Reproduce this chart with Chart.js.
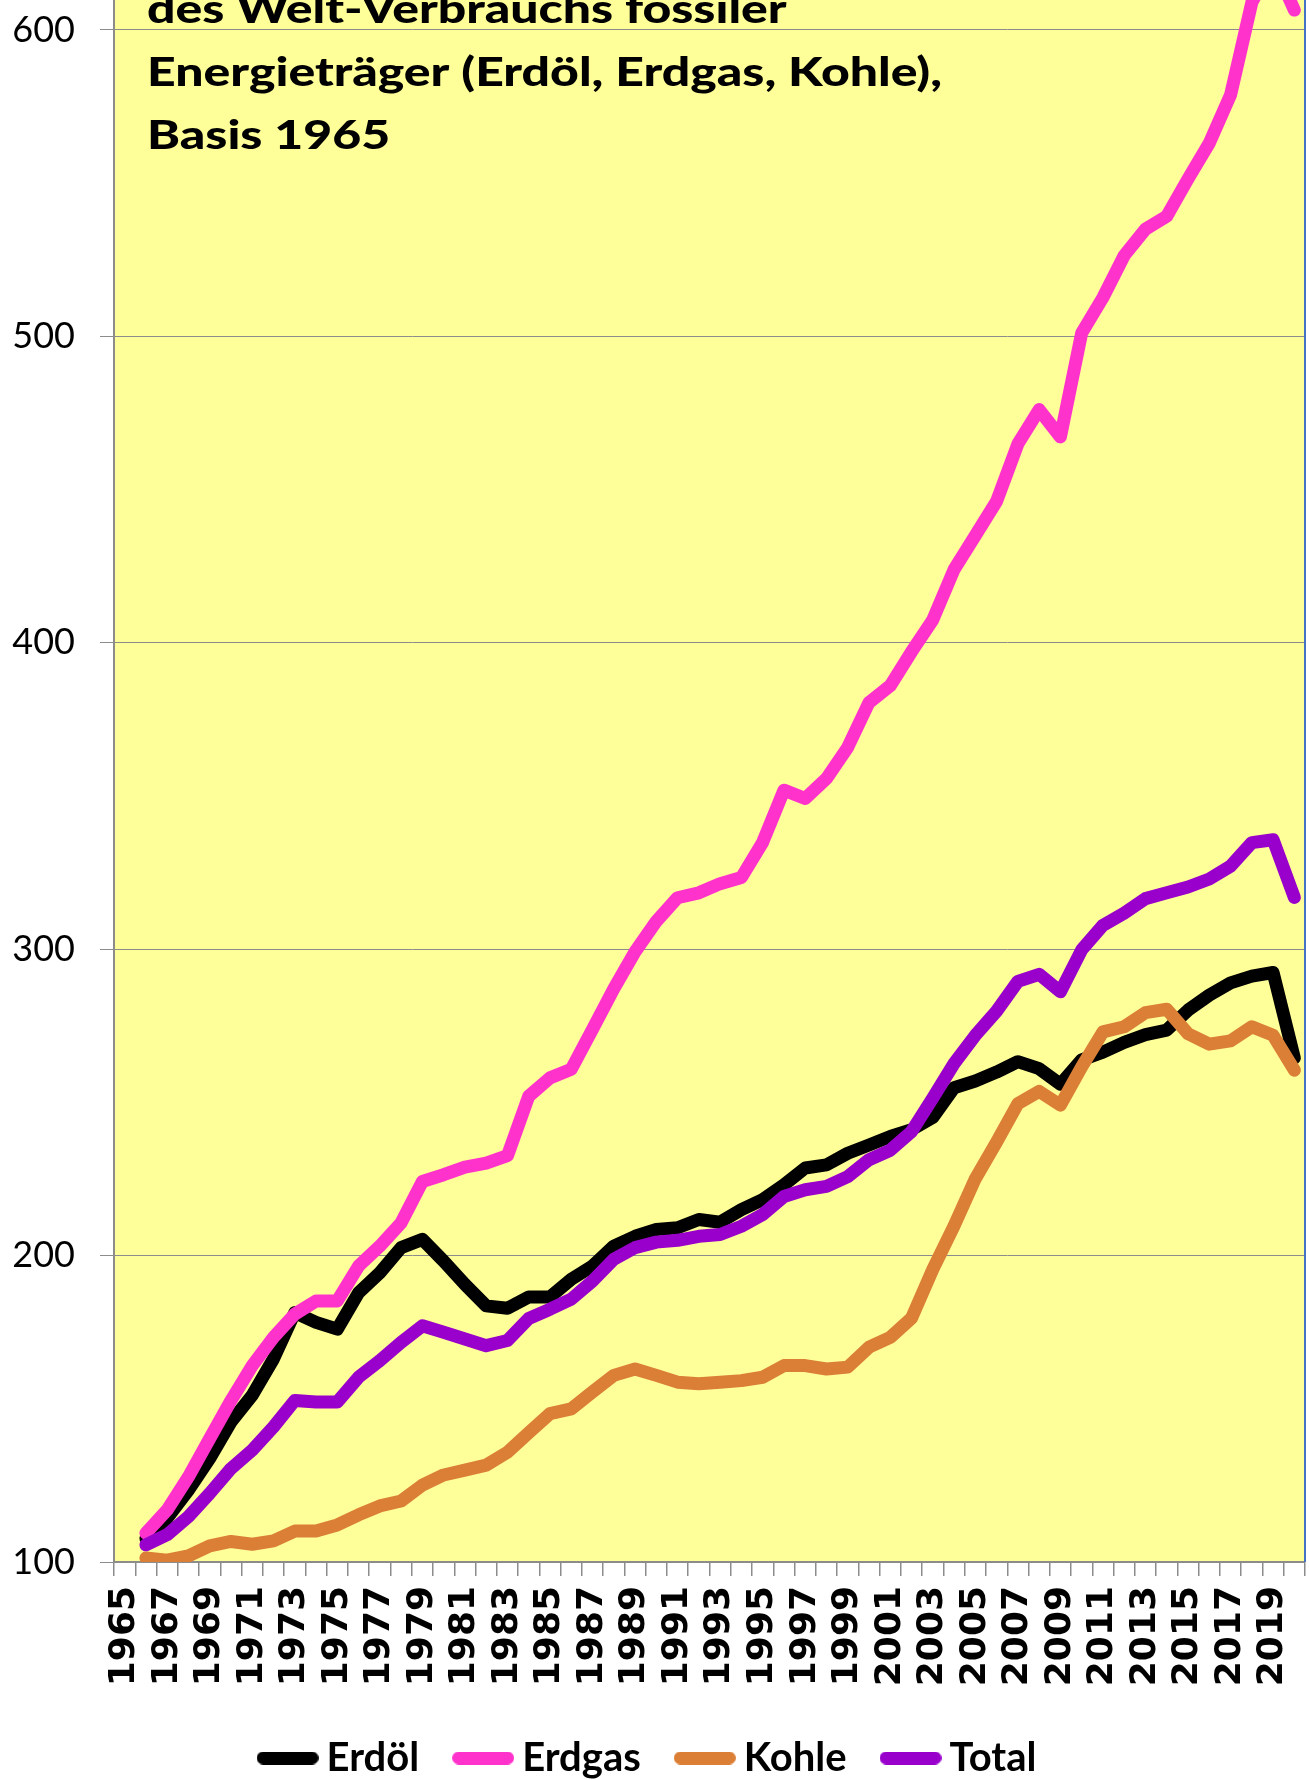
<!DOCTYPE html>
<html>
<head>
<meta charset="utf-8">
<script src="https://cdn.jsdelivr.net/npm/chart.js@4/dist/chart.umd.min.js"></script>
<style>
html,body{margin:0;padding:0;background:#fff;overflow:hidden;}
#frame{position:relative;width:1309px;height:1780px;overflow:hidden;background:#fff;}
#box{position:absolute;left:0;top:-323px;width:1309px;height:2111px;}
</style>
</head>
<body>
<div id="frame"><div id="box"><canvas id="c"></canvas></div></div>
<script>
const years = ['1965','1966','1967','1968','1969','1970','1971','1972','1973','1974',
  '1975','1976','1977','1978','1979','1980','1981','1982','1983','1984',
  '1985','1986','1987','1988','1989','1990','1991','1992','1993','1994',
  '1995','1996','1997','1998','1999','2000','2001','2002','2003','2004',
  '2005','2006','2007','2008','2009','2010','2011','2012','2013','2014',
  '2015','2016','2017','2018','2019','2020'];

const erdoel = [null,107.8,114.3,123.5,133.8,145.7,154.4,166.3,181.4,178.2,
  176.0,187.9,194.4,202.6,205.3,198.2,190.6,183.6,182.8,186.5,
  186.5,192.3,196.6,203.1,206.3,208.5,209.1,211.8,210.9,215.0,
  218.3,223.1,228.6,229.6,233.4,236.1,238.9,241.1,245.1,254.8,
  257.0,259.9,263.3,261.0,255.9,263.9,266.4,269.6,272.1,273.6,
  280.1,285.0,289.0,291.2,292.4,264.5];

const erdgas = [null,109.4,117.0,127.8,140.3,152.7,164.1,173.3,180.9,185.2,
  185.2,196.6,203.1,210.7,224.2,226.4,228.9,230.2,232.6,252.0,
  258.0,260.8,273.9,287.1,299.2,309.1,316.8,318.4,321.4,323.4,
  334.9,351.9,349.2,355.7,365.9,380.5,386.0,397.1,407.5,423.9,
  435.0,446.2,464.9,476.1,467.2,501.1,512.7,526.4,535.0,539.2,
  551.4,563.1,578.8,609.0,622.0,606.5];

const kohle = [null,101.3,100.6,102.0,105.3,106.7,105.8,106.9,110.1,110.1,
  112.1,115.4,118.3,119.9,125.1,128.4,130.0,131.6,135.8,142.2,
  148.4,150.0,155.5,160.9,163.0,160.9,158.7,158.2,158.7,159.2,
  160.3,164.1,164.1,163.0,163.6,170.1,173.3,179.6,195.5,209.7,
  225.1,237.1,249.6,253.6,249.1,261.6,273.0,274.7,279.3,280.4,
  272.4,269.0,270.1,274.7,271.9,260.5];

const total = [null,105.6,108.9,114.8,122.4,130.5,136.5,144.1,152.7,152.2,
  152.2,160.3,165.7,171.7,177.1,175.0,172.8,170.6,172.3,179.5,
  182.5,185.8,191.7,198.8,202.6,204.4,205.0,206.3,206.9,209.6,
  213.4,219.3,221.5,222.6,225.8,231.3,234.4,240.5,251.4,262.7,
  271.9,279.8,289.5,291.8,286.1,299.8,307.8,311.8,316.5,318.4,
  320.3,322.9,327.1,334.8,335.7,316.9];

const seriesNames = ['Erdöl','Erdgas','Kohle','Total'];
const seriesColors = ['#000000','#FF33CC','#DB7F37','#9900CC'];
const titleLines = ['des Welt-Verbrauchs fossiler','Energieträger (Erdöl, Erdgas, Kohle),','Basis 1965'];

function makeSwatch(color) {
  const c = document.createElement('canvas');
  c.width = 62; c.height = 13;
  const g = c.getContext('2d');
  g.strokeStyle = color;
  g.lineWidth = 13;
  g.lineCap = 'round';
  g.beginPath();
  g.moveTo(6.5, 6.5);
  g.lineTo(55.5, 6.5);
  g.stroke();
  return c;
}
const swatches = seriesColors.map(makeSwatch);

const plotDecor = {
  id: 'plotDecor',
  beforeDraw(chart) {
    const {ctx, chartArea: a} = chart;
    ctx.save();
    ctx.fillStyle = '#FFFF99';
    ctx.fillRect(a.left, a.top, a.right - a.left, a.bottom - a.top);
    ctx.restore();
  },
  beforeDatasetsDraw(chart) {
    const {ctx, chartArea: a} = chart;
    ctx.save();
    ctx.strokeStyle = '#4472C4';
    ctx.lineWidth = 2;
    ctx.beginPath();
    ctx.moveTo(a.right, a.top);
    ctx.lineTo(a.right, a.bottom);
    ctx.stroke();
    const y600 = chart.scales.y.getPixelForValue(600);
    ctx.font = '900 40px Lato';
    ctx.fillStyle = '#000';
    ctx.textBaseline = 'alphabetic';
    ctx.textAlign = 'left';
    const w = ctx.measureText(titleLines[1]).width;
    const sx = 795 / w;
    const offs = [-7, 56, 119];
    ctx.translate(a.left + 33, 0);
    ctx.scale(sx, 1);
    titleLines.forEach((t, i) => ctx.fillText(t, 0, y600 + offs[i]));
    ctx.restore();
  }
};

const dataArrays = [erdoel, erdgas, kohle, total];
const datasets = dataArrays.map((arr, i) => ({
  label: seriesNames[i],
  data: arr,
  borderColor: seriesColors[i],
  backgroundColor: seriesColors[i],
  borderWidth: 13,
  pointRadius: 0,
  pointHoverRadius: 0,
  tension: 0,
  borderCapStyle: 'round',
  borderJoinStyle: 'round',
  order: 4 - i
}));

new Chart(document.getElementById('c'), {
  type: 'line',
  data: { labels: years, datasets },
  plugins: [plotDecor],
  options: {
    responsive: true,
    maintainAspectRatio: false,
    devicePixelRatio: 1,
    animation: false,
    layout: { padding: { top: 40, right: 4, bottom: 0, left: 0 } },
    plugins: {
      title: { display: false },
      tooltip: { enabled: false },
      legend: {
        display: true,
        position: 'bottom',
        labels: {
          usePointStyle: true,
          pointStyleWidth: 38,
          boxHeight: 13,
          padding: 45,
          color: '#000',
          font: { family: 'Lato', weight: 'bold', size: 40 },
          generateLabels(chart) {
            return chart.data.datasets.map((ds, i) => ({
              text: ds.label,
              fillStyle: ds.borderColor,
              strokeStyle: ds.borderColor,
              lineWidth: 0,
              pointStyle: swatches[i],
              hidden: false,
              datasetIndex: i,
              fontColor: '#000'
            }));
          }
        }
      }
    },
    scales: {
      x: {
        offset: true,
        grid: { offset: true, drawOnChartArea: false, drawTicks: true, tickLength: 14, color: '#8c8c8c', lineWidth: 1.5 },
        border: { display: true, color: '#8c8c8c', width: 2 },
        ticks: {
          autoSkip: false, minRotation: 90, maxRotation: 90, padding: 10,
          color: '#000',
          font: { family: 'DejaVu Sans', weight: 'bold', size: 36 },
          callback: (v, i) => (i % 2 === 0 ? years[i] : '')
        },
        afterFit: (s) => { s.height = 131; s.paddingLeft = 0; s.paddingRight = 0; }
      },
      y: {
        min: 100, max: 700,
        ticks: { stepSize: 100, padding: 25, color: '#000', font: { family: 'Lato', size: 36 } },
        grid: { color: '#8c8c8c', lineWidth: 1, tickLength: 14, drawTicks: true },
        border: { display: true, color: '#8c8c8c', width: 2 },
        afterFit: (s) => { s.width = 114; }
      }
    }
  }
});
</script>
</body>
</html>
